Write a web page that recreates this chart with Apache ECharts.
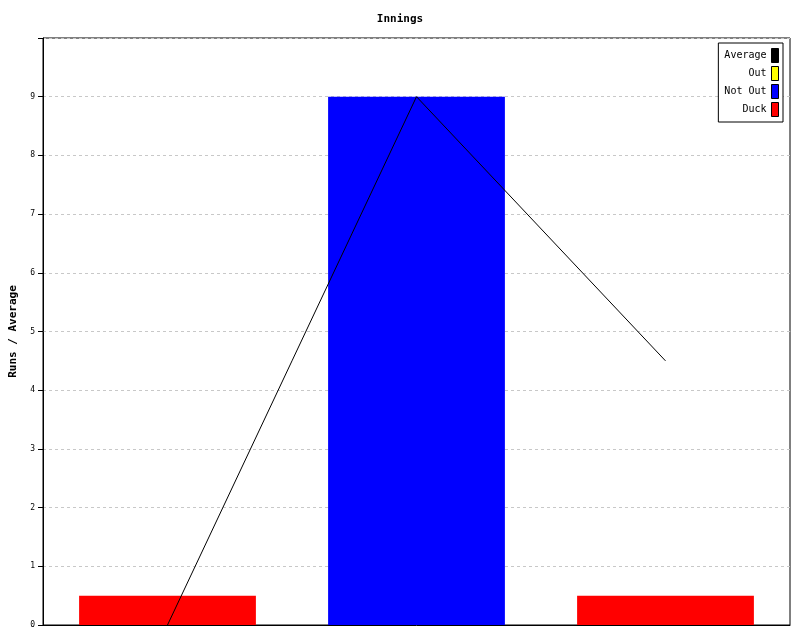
<!DOCTYPE html>
<html><head><meta charset="utf-8">
<script src="https://cdn.jsdelivr.net/npm/echarts@6/dist/echarts.min.js"></script>
<style>html,body{margin:0;padding:0;background:#fff}#c{width:800px;height:640px}</style>
</head><body><div id="c"></div>
<script>
const categories = ['1', '2', '3'];
const duck = [0.5, null, 0.5];
const notOut = [null, 9, null];
const out = [null, null, null];
const average = [0, 9, 4.5];
const yTicks = [0, 1, 2, 3, 4, 5, 6, 7, 8, 9];

const font = 'DejaVu Sans Mono';
const chart = echarts.init(document.getElementById('c'));
chart.setOption({
  animation: false,
  backgroundColor: '#fff',
  title: {text: 'Innings', left: 'center', top: 9,
    textStyle: {fontFamily: font, fontSize: 11, fontWeight: 'bold', color: '#000'}},
  grid: {left: 43, right: 10, top: 38, bottom: 15, containLabel: false, outerBoundsMode: 'none',
    show: true, borderColor: '#000', borderWidth: 1, backgroundColor: 'transparent'},
  legend: {
    orient: 'vertical', right: 17, top: 43, align: 'right', icon: 'rect',
    itemWidth: 7, itemHeight: 14, itemGap: 3, padding: [5, 4, 5, 6],
    borderColor: '#000', borderWidth: 1, backgroundColor: '#fff',
    itemStyle: {borderColor: '#000', borderWidth: 1},
    textStyle: {fontFamily: font, fontSize: 10, color: '#000', padding: [0, 0, 0, 0]},
    data: ['Average', 'Out', 'Not Out', 'Duck']
  },
  xAxis: {type: 'category', data: categories, boundaryGap: true,
    axisLine: {lineStyle: {color: '#000'}}, axisTick: {show: false}, axisLabel: {show: false}},
  yAxis: {type: 'value', min: 0, max: 10, interval: 1,
    name: 'Runs / Average', nameLocation: 'middle', nameGap: 24, nameRotate: 90,
    nameTextStyle: {fontFamily: font, fontSize: 11, fontWeight: 'bold', color: '#000'},
    axisLine: {show: true, lineStyle: {color: '#000'}},
    axisTick: {show: true, length: 5, lineStyle: {color: '#000'}},
    axisLabel: {fontFamily: font, fontSize: 8, color: '#000', margin: 8,
      formatter: v => yTicks.includes(v) ? String(v) : ''},
    splitLine: {show: true, lineStyle: {color: '#c8c8c8', type: [3, 3]}}},
  series: [
    {name: 'Duck', type: 'bar', stack: 's', data: duck, barWidth: '71%', itemStyle: {color: '#ff0000'}},
    {name: 'Not Out', type: 'bar', stack: 's', data: notOut, barWidth: '71%', itemStyle: {color: '#0000ff'}},
    {name: 'Out', type: 'bar', stack: 's', data: out, barWidth: '71%', itemStyle: {color: '#ffff00'}},
    {name: 'Average', type: 'line', data: average, symbol: 'none', z: 5,
      lineStyle: {color: '#000', width: 1}, itemStyle: {color: '#000'}}
  ]
});
</script></body></html>
